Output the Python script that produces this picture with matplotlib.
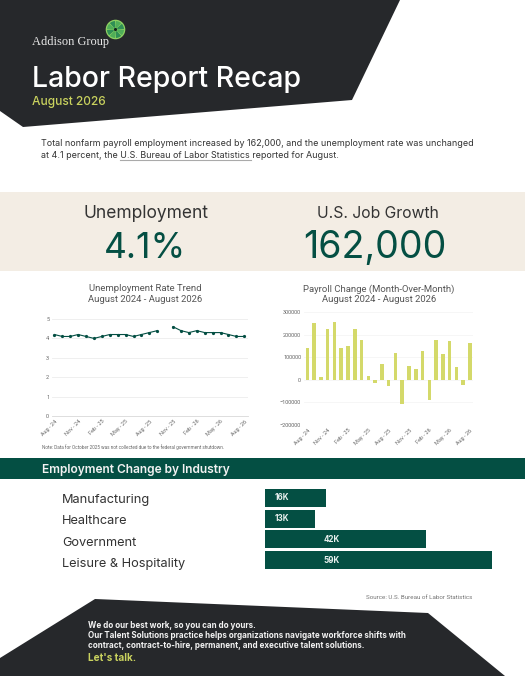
import matplotlib
matplotlib.use('Agg')
import matplotlib.pyplot as plt
from matplotlib.patches import Polygon, Rectangle, Wedge, Circle
import numpy as np

W, H = 525, 676
DARK = '#26282b'
GREEN = '#044f43'
LIME = '#c9d25e'
BAR_LIME = '#d4d96a'
BEIGE = '#f3ede4'

months = ['Aug - 24', 'Sep - 24', 'Oct - 24', 'Nov - 24', 'Dec - 24', 'Jan - 25', 'Feb - 25',
          'Mar - 25', 'Apr - 25', 'May - 25', 'Jun - 25', 'Jul - 25', 'Aug - 25', 'Sep - 25',
          'Oct - 25', 'Nov - 25', 'Dec - 25', 'Jan - 26', 'Feb - 26', 'Mar - 26', 'Apr - 26',
          'May - 26', 'Jun - 26', 'Jul - 26', 'Aug - 26']
unemployment = [4.2, 4.1, 4.1, 4.2, 4.1, 4.0, 4.1, 4.2, 4.2, 4.2, 4.1, 4.2, 4.3, 4.4, np.nan,
                4.6, 4.4, 4.3, 4.4, 4.3, 4.3, 4.3, 4.2, 4.1, 4.1]
payroll = [142000, 254000, 12000, 224000, 255000, 140000, 150000, 224000, 177000, 17000,
           -13000, 70000, -25000, 120000, -105000, 61000, 49000, 130000, -90000, 177000,
           115000, 172000, 56000, -22000, 162000]
industries = ['Manufacturing', 'Healthcare', 'Government', 'Leisure & Hospitality']
industry_change = [16, 13, 42, 59]
industry_labels = ['16K', '13K', '42K', '59K']

plt.rcParams['font.family'] = ['Inter', 'DejaVu Sans']

fig = plt.figure(figsize=(W / 100, H / 100), dpi=100, facecolor='white')


def px_axes(left, top, right, bottom):
    return fig.add_axes([left / W, 1 - bottom / H, (right - left) / W, (bottom - top) / H])


# page layer in pixel coordinates
bg = fig.add_axes([0, 0, 1, 1])
bg.set_xlim(0, W)
bg.set_ylim(H, 0)
bg.axis('off')

bg.add_patch(Polygon([(0, 0), (400, 0), (352, 100), (23, 127), (0, 111)], color=DARK, lw=0))
bg.add_patch(Polygon([(95, 599), (428, 613), (505, 676), (0, 676), (0, 658)], color=DARK, lw=0))
bg.add_patch(Rectangle((0, 192), W, 79, color=BEIGE, lw=0))
bg.add_patch(Rectangle((0, 458), W, 21, color=GREEN, lw=0))

# logo
bg.add_patch(Circle((115.5, 29.5), 9.8, color='#8ccf62', lw=0))
for i in range(8):
    col = '#2f8f55' if i % 2 else '#4fae58'
    bg.add_patch(Wedge((115.5, 29.5), 8.5, i * 45 + 3, i * 45 + 42, width=6.5, color=col, lw=0))
bg.add_patch(Circle((115.5, 29.5), 1.6, color='#10241c', lw=0))
bg.text(32.5, 42.5, 'Addison Group', family='Liberation Serif', fontsize=8.9, color='#e8e8e8', va='center')

bg.text(32, 79.5, 'Labor Report Recap', fontsize=20.5, fontweight='medium', color='white', va='center')
bg.text(32, 102.5, 'August 2026', fontsize=8.6, fontweight='medium', color=LIME, va='center')

bg.text(41, 144, 'Total nonfarm payroll employment increased by 162,000, and the unemployment rate was unchanged',
        fontsize=6.45, color='#333333', va='center')
bg.text(41, 155, 'at 4.1 percent, the U.S. Bureau of Labor Statistics reported for August.',
        fontsize=6.45, color='#333333', va='center')
bg.plot([120, 251], [159.5, 159.5], color='#aaaaaa', lw=0.8)

bg.text(146, 213.5, 'Unemployment', fontsize=12.5, color='#333333', ha='center', va='center')
bg.text(378, 213.5, 'U.S. Job Growth', fontsize=11.3, color='#333333', ha='center', va='center')
bg.text(145, 248, '4.1%', fontsize=25.5, color=GREEN, ha='center', va='center')
bg.text(375, 248, '162,000', fontsize=27, color=GREEN, ha='center', va='center')

bg.text(145, 294, 'Unemployment Rate Trend\nAugust 2024 - August 2026', fontsize=6.8, color='#555555',
        family='Roboto', ha='center', va='center', linespacing=1.15)
bg.text(379, 294, 'Payroll Change (Month-Over-Month)\nAugust 2024 - August 2026', fontsize=6.8, color='#555555',
        family='Roboto', ha='center', va='center', linespacing=1.15)
bg.text(42, 447.5, 'Note: Data for October 2025 was not collected due to the federal government shutdown.',
        fontsize=3.3, color='#666666', family='Roboto', va='center')

bg.text(42, 470, 'Employment Change by Industry', fontsize=8.6, fontweight='semibold', color='#f2f2f2', va='center')
for name, y in zip(industries, [499.5, 520.5, 542.5, 563.5]):
    bg.text(62, y, name, fontsize=9.2, color='#333333', va='center')
bg.text(472.5, 597.5, 'Source: U.S. Bureau of Labor Statistics', fontsize=4.5, color='#777777',
        family='Roboto', ha='right', va='center')

bg.text(88, 625.5, 'We do our best work, so you can do yours.', fontsize=5.8, fontweight='bold', color='#f2f2f2', va='center')
bg.text(88, 635.5, 'Our Talent Solutions practice helps organizations navigate workforce shifts with',
        fontsize=5.8, fontweight='bold', color='#f2f2f2', va='center')
bg.text(88, 645.5, 'contract, contract-to-hire, permanent, and executive talent solutions.',
        fontsize=5.8, fontweight='bold', color='#f2f2f2', va='center')
bg.text(88, 658, "Let's talk.", fontsize=7.2, fontweight='bold', color=LIME, va='center')

x = np.arange(len(months))
tick_idx = x[::3]
tick_names = [months[i] for i in tick_idx]

# unemployment line
ax1 = px_axes(52, 319, 248, 416)
ax1.plot(x, unemployment, color=GREEN, lw=0.8, marker='o', ms=1.3)
ax1.set_xlim(-0.3, 24.47)
ax1.set_ylim(0, 5)
ax1.set_yticks(range(6))
ax1.set_xticks(tick_idx)
ax1.set_xticklabels(tick_names, rotation=45, ha='right', rotation_mode='anchor')
ax1.grid(axis='y', color='#ececec', lw=0.6)
ax1.set_axisbelow(True)

# payroll bars
ax2 = px_axes(304, 312.3, 473, 425)
ax2.bar(x, payroll, width=0.52, color=BAR_LIME)
ax2.set_xlim(-0.49, 24.44)
ax2.set_ylim(-200000, 300000)
ax2.set_yticks(range(-200000, 300001, 100000))
ax2.set_xticks(tick_idx)
ax2.set_xticklabels(tick_names, rotation=45, ha='right', rotation_mode='anchor')
ax2.grid(axis='y', color='#f3f3f3', lw=0.5)
ax2.set_axisbelow(True)

for ax in (ax1, ax2):
    ax.patch.set_alpha(0)
    for s in ax.spines.values():
        s.set_visible(False)
    ax.tick_params(length=0, labelsize=4, labelcolor='#666666', pad=2)
    for lab in ax.get_xticklabels() + ax.get_yticklabels():
        lab.set_family('Roboto')
ax1.spines['bottom'].set_visible(True)
ax1.spines['bottom'].set_color('#d8d8d8')
ax1.spines['bottom'].set_linewidth(0.6)

# industry bars
ax3 = px_axes(264.5, 486.5, 492, 571.5)
ypos = np.array([0, 1, 2, 3])
ax3.barh(ypos, industry_change, height=0.87, color=GREEN)
ax3.set_xlim(0, 59)
ax3.set_ylim(3.55, -0.55)
ax3.axis('off')
ax3.patch.set_alpha(0)
for y, v, lab in zip(ypos, industry_change, industry_labels):
    xt = 4.6 if v < 30 else 17.5
    ax3.text(xt, y, lab, fontsize=5.8, fontweight='bold', color='#e8f0ee', ha='center', va='center')

fig.savefig('out.png', dpi=100, facecolor='white')
